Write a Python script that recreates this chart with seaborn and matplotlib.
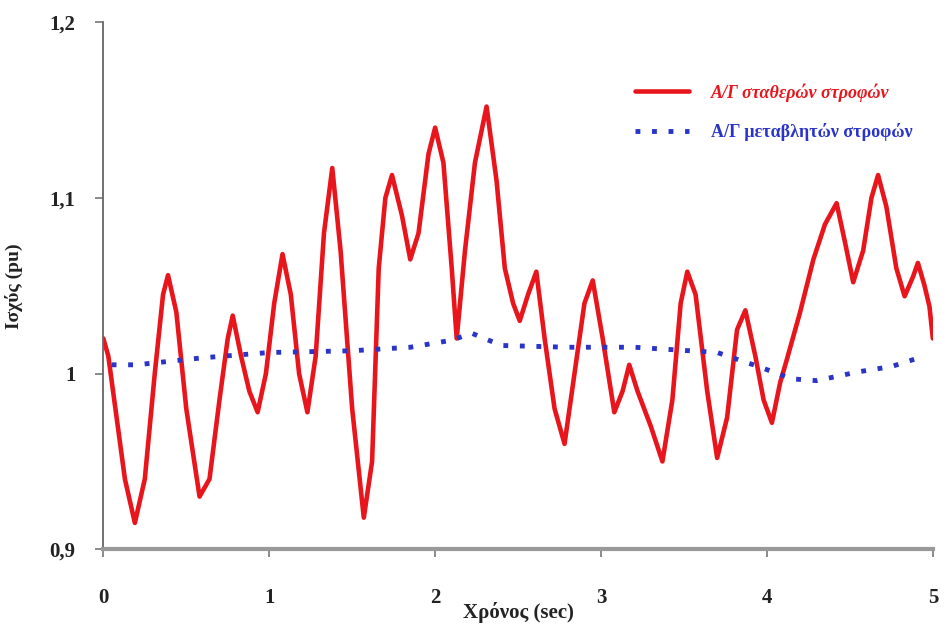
import pandas as pd
import matplotlib.pyplot as plt
import seaborn as sns

# values
red_t = [0.00, 0.03, 0.08, 0.13, 0.19, 0.25, 0.31, 0.36, 0.39, 0.44, 0.50, 0.58, 0.64, 0.70, 0.75,
         0.78, 0.83, 0.88, 0.93, 0.98, 1.03, 1.08, 1.13, 1.18, 1.23, 1.28, 1.33, 1.38, 1.43, 1.50,
         1.57, 1.62, 1.66, 1.70, 1.74, 1.80, 1.85, 1.90, 1.96, 2.00, 2.05, 2.10, 2.13, 2.18, 2.24,
         2.31, 2.37, 2.42, 2.47, 2.51, 2.56, 2.61, 2.66, 2.72, 2.78, 2.84, 2.90, 2.95, 3.01, 3.08,
         3.13, 3.17, 3.22, 3.30, 3.37, 3.43, 3.48, 3.52, 3.57, 3.64, 3.70, 3.76, 3.82, 3.87, 3.93,
         3.98, 4.03, 4.08, 4.12, 4.20, 4.28, 4.35, 4.42, 4.47, 4.52, 4.58, 4.63, 4.67, 4.72, 4.78,
         4.83, 4.88, 4.91, 4.95, 4.98, 5.00]
red_v = [1.020, 1.010, 0.975, 0.940, 0.915, 0.940, 1.000, 1.045, 1.056, 1.035, 0.980, 0.930, 0.940, 0.985, 1.020,
         1.033, 1.010, 0.990, 0.978, 1.000, 1.040, 1.068, 1.045, 1.000, 0.978, 1.010, 1.080, 1.117, 1.070, 0.980,
         0.918, 0.950, 1.060, 1.100, 1.113, 1.090, 1.065, 1.080, 1.125, 1.140, 1.120, 1.060, 1.020, 1.070, 1.120,
         1.152, 1.110, 1.060, 1.040, 1.030, 1.045, 1.058, 1.020, 0.980, 0.960, 1.000, 1.040, 1.053, 1.020, 0.978,
         0.990, 1.005, 0.990, 0.970, 0.950, 0.985, 1.040, 1.058, 1.045, 0.990, 0.952, 0.975, 1.025, 1.036, 1.010,
         0.985, 0.972, 0.995, 1.008, 1.035, 1.065, 1.085, 1.097, 1.075, 1.052, 1.070, 1.100, 1.113, 1.095, 1.060,
         1.044, 1.055, 1.063, 1.050, 1.038, 1.020]

blue_t = [0.05, 0.20, 0.60, 1.00, 1.50, 1.85, 2.10, 2.22, 2.40, 2.80, 3.20, 3.70, 3.95, 4.15, 4.30, 4.55, 4.75, 4.95]
blue_v = [1.005, 1.005, 1.009, 1.012, 1.013, 1.015, 1.019, 1.023, 1.016, 1.015, 1.015, 1.012, 1.004, 0.997,
          0.996, 1.001, 1.004, 1.010]

labels = ['Α/Γ σταθερών στροφών', 'Α/Γ μεταβλητών στροφών']
x_ticks = [0, 1, 2, 3, 4, 5]
y_ticks = [0.9, 1.0, 1.1, 1.2]
y_ticklabels = ['0,9', '1', '1,1', '1,2']

df_red = pd.DataFrame({'t': red_t, 'P': red_v})
df_blue = pd.DataFrame({'t': blue_t, 'P': blue_v})

sns.set_style('white')
plt.rcParams['font.family'] = ['Liberation Serif', 'DejaVu Serif']
plt.rcParams['font.weight'] = 'bold'

fig = plt.figure(figsize=(9.48, 6.35), dpi=100)
ax = fig.add_axes([0.109, 0.135, 0.875, 0.83])

sns.lineplot(data=df_red, x='t', y='P', color='#e8161c', linewidth=3.3,
             label=labels[0], ax=ax)
sns.lineplot(data=df_blue, x='t', y='P', color='#2a35c8', linewidth=3.5,
             linestyle=(0, (1.0, 2.4)), label=labels[1], ax=ax)

ax.set_xlim(0, 5)
ax.set_ylim(0.9, 1.2)
ax.set_xticks(x_ticks)
ax.set_xticklabels([str(v) for v in x_ticks])
ax.set_yticks(y_ticks)
ax.set_yticklabels(y_ticklabels)
ax.tick_params(axis='both', direction='out', length=6, width=1.2, color='#777777',
               labelsize=15, labelcolor='#222222', pad=14, left=True, bottom=True)
ax.tick_params(axis='x', pad=22)

for side in ['top', 'right']:
    ax.spines[side].set_visible(False)
ax.spines['left'].set_color('#666666')
ax.spines['left'].set_linewidth(1.3)
ax.spines['bottom'].set_color('#999999')
ax.spines['bottom'].set_linewidth(3)

ax.set_xlabel('Χρόνος (sec)', fontsize=15, fontweight='bold', color='#222222')
ax.xaxis.set_label_coords(0.5, -0.1)
ax.set_ylabel('Ισχύς (pu)', fontsize=14, fontweight='bold', color='#222222')
ax.yaxis.set_label_coords(-0.097, 0.5)

leg = ax.legend(loc='upper right', bbox_to_anchor=(0.995, 0.915), frameon=False,
                fontsize=13, handlelength=3.0, labelspacing=1.2, handletextpad=1.2)
for txt, col in zip(leg.get_texts(), ['#e8161c', '#2a35c8']):
    txt.set_color(col)
    txt.set_fontweight('bold')
leg.get_texts()[0].set_fontstyle('italic')

fig.savefig('out.png', dpi=100)
